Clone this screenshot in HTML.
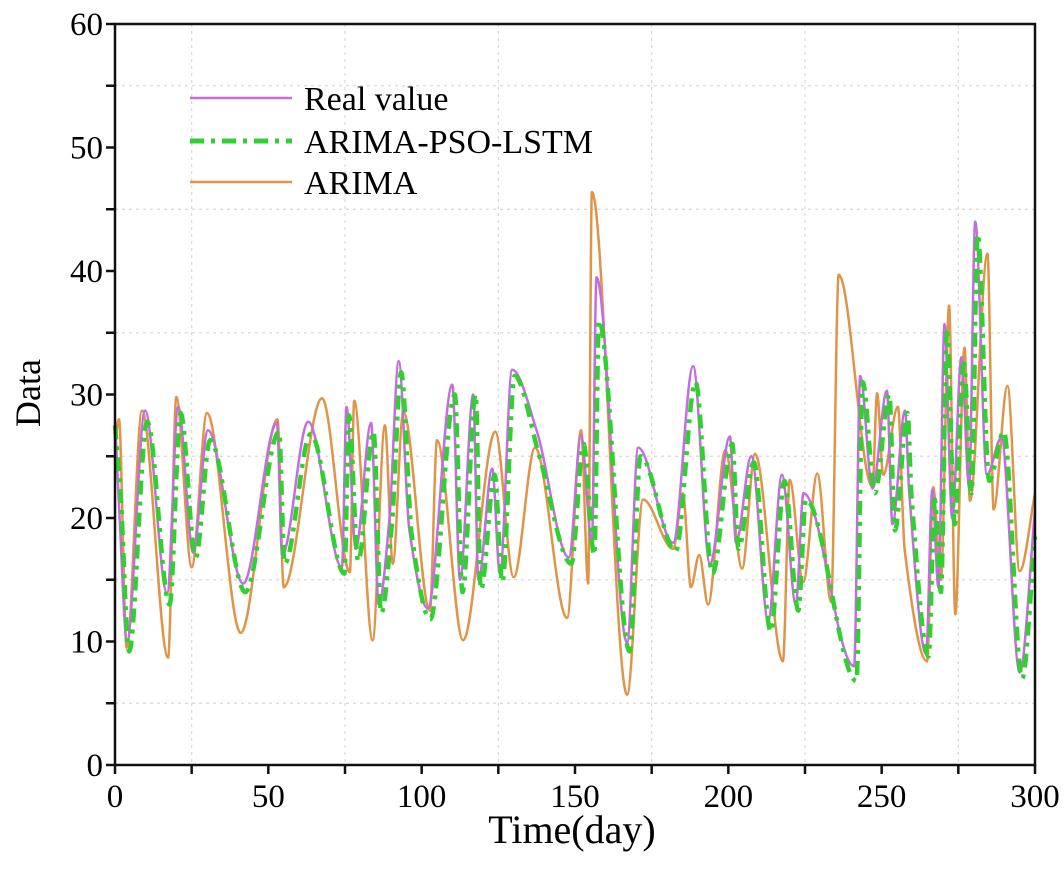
<!DOCTYPE html>
<html><head><meta charset="utf-8">
<style>
html,body{margin:0;padding:0;background:#fff;}
svg{display:block;font-family:"Liberation Serif",serif;}
</style></head>
<body>
<svg id="chart" width="1064" height="875" viewBox="0 0 1064 875" xmlns="http://www.w3.org/2000/svg">
<g id="grid"></g>
<g id="series"></g>
<rect x="115" y="24" width="920" height="741" fill="none" stroke="#111" stroke-width="2.5"/>
<g id="axes"></g>
<text x="572" y="843" font-size="40" text-anchor="middle">Time(day)</text>
<text x="0" y="0" font-size="36" text-anchor="middle" transform="translate(40,393) rotate(-90)">Data</text>
<g>
  <g>
    <line x1="190" y1="98" x2="292" y2="98" stroke="#c56be3" stroke-width="2.5"/>
    <text x="304" y="110" font-size="34">Real value</text>
  </g>
  <g>
    <line x1="190" y1="141" x2="292" y2="141" stroke="#2fd02f" stroke-width="5" stroke-dasharray="14,7,4,7"/>
    <text x="304" y="153" font-size="34">ARIMA-PSO-LSTM</text>
  </g>
  <g>
    <line x1="190" y1="182" x2="292" y2="182" stroke="#df9448" stroke-width="2.5"/>
    <text x="304" y="194" font-size="34">ARIMA</text>
  </g>
</g>
</svg>
<script>
const xTicks = [0, 50, 100, 150, 200, 250, 300];
const yTicks = [0, 10, 20, 30, 40, 50, 60];
const realDays = [0,1.5,3.9,9.8,17,20.6,25.5,30.3,41.8,52.8,54.5,63,74,75.5,78.5,83.5,86,89.5,92.5,96,102,110,112.5,116.8,118.5,123,125.5,129.5,137.6,148,152,155.5,157,167,170.6,182,188.5,194,200.5,202.5,207.5,213,217.5,222,224.5,241,243,247,251.7,253.5,257.6,259,264.5,266.5,268.5,270.5,273,276,278.5,280.5,284.3,289,295,300];
const realVals = [28,20,10,28.7,13.9,29,17.2,27.1,14.7,27.7,17,27.8,16,29,17.5,27.7,13,20,32.7,19,12.7,30.8,15,30,15,24,15.5,32,27,16.8,26.7,18,39.5,9.9,25.7,18,32.3,16.3,26.6,18,25,11.7,23.5,13,22,8,31.5,22.4,30.3,19.5,28.7,22,9,22.3,14.4,35.7,20,33,22.5,44,23.5,26.5,7.5,20.6];
const lstmDays = [0,1.8,4.6,10.5,17.8,21.4,26.3,31,42.5,53.5,55.3,63.8,74.8,76.3,79.3,84.3,86.8,90.3,93.3,96.8,102.8,110.8,113.3,117.6,119.3,123.8,126.3,130.3,138.4,148.8,152.8,156.3,157.8,167.8,171.4,182.8,189.3,194.8,201.3,203.3,208.3,213.8,218.3,222.8,225.3,241.8,243.8,247.8,252.5,254.3,258.4,259.8,265.3,267.3,269.3,271.3,273.8,276.8,279.3,281.3,285.1,289.8,295.8,300];
const lstmVals = [27.5,22,9.2,27.8,13,28.5,16.8,26.3,14,27,16.3,26.8,15.5,28.3,16.5,27,12.3,19.5,31.8,18.5,11.8,30,14,30,14.2,23.5,14.8,31.5,25,16.3,26,17,36,9.2,25,17.3,31,15.5,26,17.5,24.5,10.8,23,12.5,21.5,6.8,31,22,30,19,28.5,21.5,8.8,21.5,14,35,19.5,32.5,22,43,23,27,7,18.5];
const arimaDays = [0,1.3,3.8,8.8,17.3,20,25,30,41,53,55,67.5,76.6,78,84,88,90.6,94,102.7,105,113.5,124,130,137,147.4,152,154.3,155.5,167,172.2,182,185.2,187.8,190.5,193.4,199,204.5,208.7,217.8,220,224.4,229,233.5,236,247,248.5,250.5,255.3,257.5,264.8,266.8,269.3,272,274,277,278.8,284.5,286.5,291,295,300];
const arimaVals = [26,28,9.5,28.7,8.7,29.8,16,28.5,10.7,28,14.4,29.7,15.6,29.5,10.1,27.5,16.3,28.6,12.5,26.3,10.1,27,15.2,25.7,11.9,27.1,14.7,46.4,5.7,21.5,17.5,22,14.4,17,13,25.5,15.9,25.2,8.4,23.1,14.8,23.6,13.2,39.7,22.5,30.1,23.5,29,17.4,8.4,22.5,15,37.2,12.2,33.8,21.4,41.4,20.7,30.7,15.7,22];

const NS = 'http://www.w3.org/2000/svg';
const X0 = 115, X1 = 1035, Y0 = 765, Y1 = 24;
function xs(d){ return X0 + d * (X1 - X0) / 300; }
function ys(v){ return Y0 - v * (Y0 - Y1) / 60; }
function mk(tag, attrs, parent){ const e = document.createElementNS(NS, tag); for (const k in attrs) e.setAttribute(k, attrs[k]); parent.appendChild(e); return e; }

const grid = document.getElementById('grid');
for (let d = 25; d < 300; d += 50) {
  const l = mk('line', {x1: xs(d), x2: xs(d), y1: Y1, y2: Y0, stroke: '#d8d8d8', 'stroke-width': 1.2, 'stroke-dasharray': '3,4'}, grid);
  
  
}
for (let v = 5; v < 60; v += 10) {
  const l = mk('line', {x1: X0, x2: X1, y1: ys(v), y2: ys(v), stroke: '#d8d8d8', 'stroke-width': 1.2, 'stroke-dasharray': '3,4'}, grid);
  
  
}

const axes = document.getElementById('axes');
for (let d = 0; d <= 300; d += 25) {
  const t = mk('line', {x1: xs(d), x2: xs(d), y1: Y0, y2: Y0 + 9, stroke: '#111', 'stroke-width': 2.5}, axes);
  
  
}
for (let v = 0; v <= 60; v += 5) {
  const t = mk('line', {x1: X0 - 9, x2: X0, y1: ys(v), y2: ys(v), stroke: '#111', 'stroke-width': 2.5}, axes);
  
  
}
xTicks.forEach(d => {
  const t = mk('text', {x: xs(d), y: Y0 + 42, 'font-size': 33, 'text-anchor': 'middle'}, axes);
  t.textContent = d;
  
  
});
yTicks.forEach(v => {
  const t = mk('text', {x: X0 - 12, y: ys(v) + 11, 'font-size': 33, 'text-anchor': 'end'}, axes);
  t.textContent = v;
  
  
});

function monoPath(days, vals){
  const n = days.length, px = days.map(xs), py = vals.map(ys);
  const dx = [], m = [], t = new Array(n);
  for (let i = 0; i < n - 1; i++){ dx[i] = px[i+1] - px[i]; m[i] = (py[i+1] - py[i]) / dx[i]; }
  t[0] = m[0]; t[n-1] = m[n-2];
  for (let i = 1; i < n - 1; i++){ t[i] = (m[i-1] * m[i] <= 0) ? 0 : 2 / (1/m[i-1] + 1/m[i]); }
  let d = 'M' + px[0].toFixed(1) + ',' + py[0].toFixed(1);
  for (let i = 0; i < n - 1; i++){
    const h = dx[i] / 3;
    d += 'C' + (px[i]+h).toFixed(1) + ',' + (py[i]+t[i]*h).toFixed(1) + ' ' + (px[i+1]-h).toFixed(1) + ',' + (py[i+1]-t[i+1]*h).toFixed(1) + ' ' + px[i+1].toFixed(1) + ',' + py[i+1].toFixed(1);
  }
  return d;
}
const series = document.getElementById('series');
const pa = mk('path', {d: monoPath(arimaDays, arimaVals), fill: 'none', stroke: '#df9448', 'stroke-width': 2.5}, series);


const pr = mk('path', {d: monoPath(realDays, realVals), fill: 'none', stroke: '#c56be3', 'stroke-width': 2.5}, series);


const pl = mk('path', {d: monoPath(lstmDays, lstmVals), fill: 'none', stroke: '#2fd02f', 'stroke-width': 4.5, 'stroke-dasharray': '14,7,4,7'}, series);


</script>
</body></html>
